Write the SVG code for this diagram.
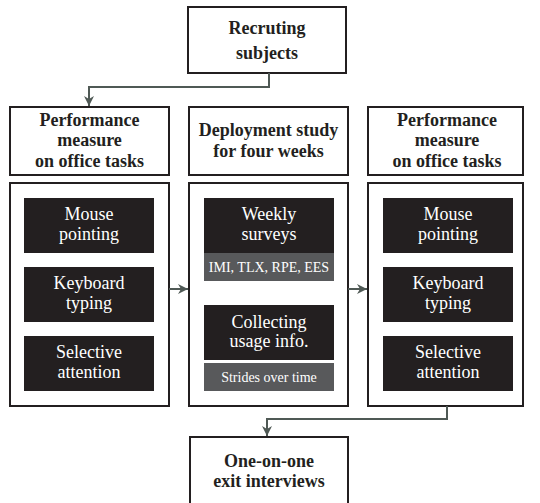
<svg xmlns="http://www.w3.org/2000/svg" width="540" height="503" viewBox="0 0 540 503">
<style>
.box{fill:#fff;stroke:#231f20;stroke-width:2}
.blk{fill:#231f20}
.gry{fill:#58595b}
.hd{font-weight:bold;font-size:18px;fill:#231f20;text-anchor:middle}
.wt{font-size:18px;fill:#fff;text-anchor:middle}
.sm{font-size:14px;fill:#fff;text-anchor:middle}
.con{fill:none;stroke:#4f5955;stroke-width:2}
</style>
<defs>
<marker id="ah" viewBox="0 0 10 10" refX="10" refY="5" markerWidth="10" markerHeight="10" markerUnits="userSpaceOnUse" orient="auto">
<path d="M0,0 L10,5 L0,10 L3,5 Z" fill="#4f5955"/>
</marker>
</defs>
<g id="recruiting">
<rect class="box" x="188" y="7" width="158" height="66"/>
<text class="hd" font-family="Liberation Serif" x="267" y="34">Recruting</text>
<text class="hd" font-family="Liberation Serif" x="267" y="59">subjects</text>
</g>
<g id="header-left">
<rect class="box" x="10" y="107" width="159" height="68"/>
<text class="hd" font-family="Liberation Serif" x="89.500" y="126">Performance</text>
<text class="hd" font-family="Liberation Serif" x="89.500" y="146">measure</text>
<text class="hd" font-family="Liberation Serif" x="89.500" y="167">on office tasks</text>
</g>
<g id="header-mid">
<rect class="box" x="189" y="107" width="159" height="68"/>
<text class="hd" font-family="Liberation Serif" x="268.500" y="136">Deployment study</text>
<text class="hd" font-family="Liberation Serif" x="268.500" y="157">for four weeks</text>
</g>
<g id="header-right">
<rect class="box" x="368" y="107" width="155" height="68"/>
<text class="hd" font-family="Liberation Serif" x="447" y="126">Performance</text>
<text class="hd" font-family="Liberation Serif" x="447" y="146">measure</text>
<text class="hd" font-family="Liberation Serif" x="447" y="167">on office tasks</text>
</g>
<g id="tasks-left">
<rect class="box" x="10" y="183" width="159" height="223"/>
<rect class="blk" x="24" y="198" width="130" height="55"/>
<text class="wt" font-family="Liberation Serif" x="89" y="220">Mouse</text>
<text class="wt" font-family="Liberation Serif" x="89" y="240">pointing</text>
<rect class="blk" x="24" y="267" width="130" height="55"/>
<text class="wt" font-family="Liberation Serif" x="89" y="289">Keyboard</text>
<text class="wt" font-family="Liberation Serif" x="89" y="309">typing</text>
<rect class="blk" x="24" y="336" width="130" height="55"/>
<text class="wt" font-family="Liberation Serif" x="89" y="358">Selective</text>
<text class="wt" font-family="Liberation Serif" x="89" y="378">attention</text>
</g>
<g id="deployment">
<rect class="box" x="189" y="183" width="159" height="223"/>
<rect class="blk" x="204" y="198" width="130" height="55"/>
<text class="wt" font-family="Liberation Serif" x="269" y="220">Weekly</text>
<text class="wt" font-family="Liberation Serif" x="269" y="240">surveys</text>
<rect class="gry" x="204" y="253" width="130" height="28"/>
<text class="sm" font-family="Liberation Serif" x="269" y="272">IMI, TLX, RPE, EES</text>
<rect class="blk" x="204" y="305" width="130" height="55"/>
<text class="wt" font-family="Liberation Serif" x="269" y="328">Collecting</text>
<text class="wt" font-family="Liberation Serif" x="269" y="347">usage info.</text>
<rect class="gry" x="204" y="363" width="130" height="28"/>
<text class="sm" font-family="Liberation Serif" x="269" y="382">Strides over time</text>
</g>
<g id="tasks-right">
<rect class="box" x="368" y="183" width="155" height="223"/>
<rect class="blk" x="383" y="198" width="130" height="55"/>
<text class="wt" font-family="Liberation Serif" x="448" y="220">Mouse</text>
<text class="wt" font-family="Liberation Serif" x="448" y="240">pointing</text>
<rect class="blk" x="383" y="267" width="130" height="55"/>
<text class="wt" font-family="Liberation Serif" x="448" y="289">Keyboard</text>
<text class="wt" font-family="Liberation Serif" x="448" y="309">typing</text>
<rect class="blk" x="383" y="336" width="130" height="55"/>
<text class="wt" font-family="Liberation Serif" x="448" y="358">Selective</text>
<text class="wt" font-family="Liberation Serif" x="448" y="378">attention</text>
</g>
<g id="exit">
<rect class="box" x="190" y="437" width="158" height="70"/>
<text class="hd" font-family="Liberation Serif" x="269" y="467">One-on-one</text>
<text class="hd" font-family="Liberation Serif" x="269" y="487">exit interviews</text>
</g>
<g id="connectors">
<path class="con" d="M269,73 V87 H89 V106" marker-end="url(#ah)"/>
<path class="con" d="M169,289 H188" marker-end="url(#ah)"/>
<path class="con" d="M348,289 H367" marker-end="url(#ah)"/>
<path class="con" d="M447,406 V419 H267 V436" marker-end="url(#ah)"/>
</g>
</svg>
